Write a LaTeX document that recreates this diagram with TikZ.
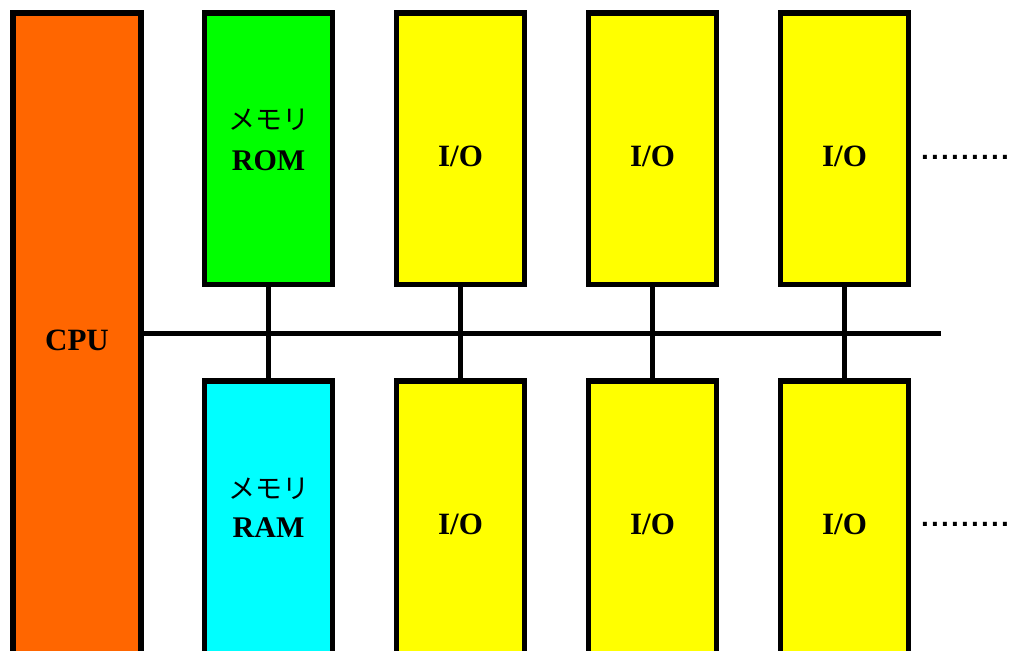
\documentclass[tikz,border=0pt]{standalone}
\usepackage{fontspec}
\setmainfont{Liberation Serif}
\newfontfamily\jpfont{Noto Sans CJK JP}
\newfontfamily\dotfont{Liberation Sans}
\newcommand\moredots{.\kern2.2pt.\kern2.2pt.\kern2.2pt.\kern2.2pt.\kern2.2pt.\kern2.2pt.\kern2.2pt.\kern2.2pt.}
\begin{document}
\begin{tikzpicture}[x=1pt,y=-1pt,
  unit/.style={draw=black,line width=5.5pt,minimum width=128pt,inner sep=0pt,outer sep=0pt},
  toprow/.style={unit,minimum height=271.5pt},
  botrow/.style={unit,minimum height=330pt},
  bus/.style={line width=5pt,draw=black},
  lbl/.style={font=\fontsize{31}{36}\selectfont\bfseries,anchor=base,inner sep=0pt},
  memlbl/.style={font=\fontsize{30}{35}\selectfont\bfseries,anchor=base,inner sep=0pt},
  kana/.style={font=\jpfont\fontsize{27}{32}\selectfont,anchor=center,inner sep=0pt},
  more/.style={font=\dotfont\fontsize{28}{32}\selectfont\bfseries,anchor=base,inner sep=0pt}]
  \definecolor{cpuorange}{HTML}{FF6600}
  \definecolor{romgreen}{HTML}{00FF00}
  \definecolor{ramcyan}{HTML}{00FFFF}
  \definecolor{ioyellow}{HTML}{FFFF00}
  \useasboundingbox (0,0) rectangle (1016,650);
  \clip (0,0) rectangle (1016,650);

  % processor column
  \node[unit,fill=cpuorange,minimum height=690pt] (cpu) at (77,358) {};
  % memory column
  \node[toprow,fill=romgreen] (rom) at (268.5,148.75) {};
  \node[botrow,fill=ramcyan] (ram) at (268.5,546) {};
  % peripheral columns
  \node[toprow,fill=ioyellow] (ioa1) at (460.5,148.75) {};
  \node[botrow,fill=ioyellow] (ioa2) at (460.5,546) {};
  \node[toprow,fill=ioyellow] (iob1) at (652.5,148.75) {};
  \node[botrow,fill=ioyellow] (iob2) at (652.5,546) {};
  \node[toprow,fill=ioyellow] (ioc1) at (844.5,148.75) {};
  \node[botrow,fill=ioyellow] (ioc2) at (844.5,546) {};

  % system bus
  \coordinate (busend) at (941,333);
  \draw[bus] (cpu.east |- busend) -- (busend);
  \draw[bus] (rom.south) -- (ram.north);
  \draw[bus] (ioa1.south) -- (ioa2.north);
  \draw[bus] (iob1.south) -- (iob2.north);
  \draw[bus] (ioc1.south) -- (ioc2.north);

  % labels
  \node[lbl] (tcpu) at (77,350) {CPU};
  \node[kana] (tmem1) at (268.5,120) {メモリ};
  \node[memlbl] (trom) at (268.5,170) {ROM};
  \node[kana] (tmem2) at (268.5,489) {メモリ};
  \node[memlbl] (tram) at (268.5,537) {RAM};
  \node[lbl] (ta1) at (460.5,166) {I/O};
  \node[lbl] (tb1) at (652.5,166) {I/O};
  \node[lbl] (tc1) at (844.5,166) {I/O};
  \node[lbl] (ta2) at (460.5,534) {I/O};
  \node[lbl] (tb2) at (652.5,534) {I/O};
  \node[lbl] (tc2) at (844.5,534) {I/O};
  \node[more] (dots1) at (965,159) {\moredots};
  \node[more] (dots2) at (965,526) {\moredots};
\end{tikzpicture}
\end{document}
